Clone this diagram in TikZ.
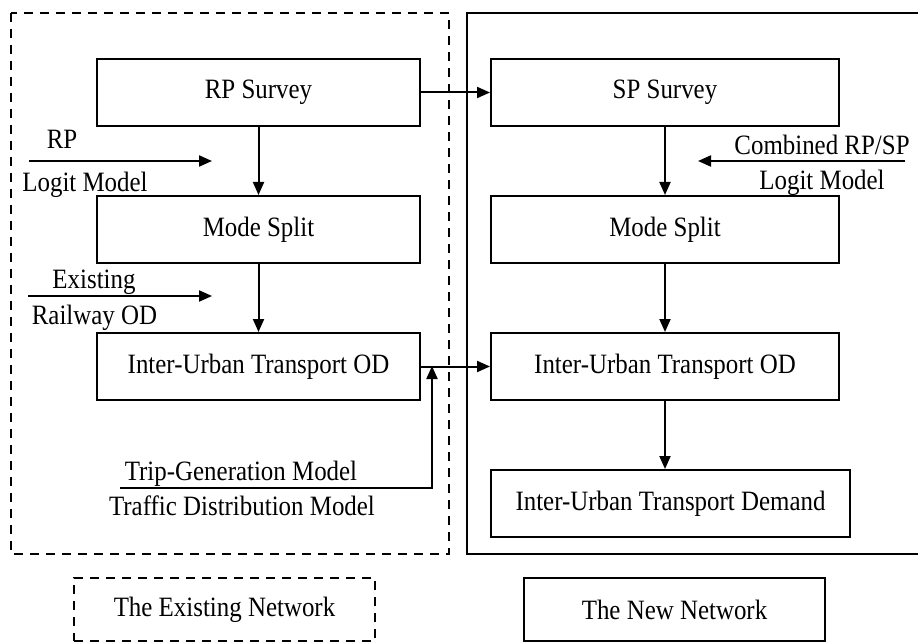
\documentclass[tikz,border=0pt]{standalone}
\usepackage{fontspec}
\setmainfont{Liberation Serif}[FakeStretch=0.89]
\usetikzlibrary{positioning,arrows.meta}

\begin{document}
\begin{tikzpicture}[x=1pt, y=-1pt,
    font=\fontsize{28pt}{32pt}\selectfont,
    node distance=68pt and 69pt,
    stage/.style={rectangle, draw=black, line width=2pt, minimum width=323pt, minimum height=67pt, inner sep=0pt, text centered},
    legend/.style={rectangle, draw=black, line width=2pt, minimum width=301pt, minimum height=63pt, inner sep=0pt, text centered},
    tag/.style={inner sep=0pt, anchor=base},
    arrow/.style={-{Triangle[length=13pt, width=11pt]}, line width=2pt},
    frame/.style={line width=2pt},
    dashframe/.style={line width=2pt, dash pattern=on 9pt off 7pt},
]
\useasboundingbox (0,0) rectangle (918,644);

% Network frames
\draw[dashframe] (11,13) rectangle (449,554);
\draw[frame] (467,13) rectangle (940,554);

% Existing network
\node (rps) [stage] at (258.5,92.5) {RP Survey};
\node (lms) [stage, below=of rps] {Mode Split};
\node (lod) [stage, below=of lms] {Inter-Urban Transport OD};

% New network
\node (sps) [stage, minimum width=348pt, right=of rps] {SP Survey};
\node (rms) [stage, minimum width=348pt, below=of sps] {Mode Split};
\node (rod) [stage, minimum width=348pt, below=of rms] {Inter-Urban Transport OD};
\node (dem) [stage, minimum width=359pt, below=68pt of rod.south west, anchor=north west] {Inter-Urban Transport Demand};

% Inputs
\coordinate (rpfrom) at (29,161);
\coordinate (rpto) at (212,161);
\node (rptop) [tag] at (62,149) {RP};
\node (rpbot) [tag] at (85,192) {Logit Model};

\coordinate (odfrom) at (28,296);
\coordinate (odto) at (212,296);
\node (odtop) [tag] at (94,288) {Existing};
\node (odbot) [tag] at (94.5,324) {Railway OD};

\coordinate (spfrom) at (905,161);
\coordinate (spto) at (698,161);
\node (sptop) [tag] at (822,155) {Combined RP/SP};
\node (spbot) [tag] at (822,190) {Logit Model};

\coordinate (tripfrom) at (120,488);
\coordinate (tripto) at (432,366);
\node (triptop) [tag] at (241,480) {Trip-Generation Model};
\node (tripbot) [tag] at (242,515) {Traffic Distribution Model};

% Arrows
\draw[arrow] (rps) -- (lms);
\draw[arrow] (lms) -- (lod);
\draw[arrow] (sps) -- (rms);
\draw[arrow] (rms) -- (rod);
\draw[arrow] (rod) -- (dem.north -| rod.south);
\draw[arrow] (rps) -- (sps);
\draw[arrow] (lod) -- (rod);
\draw[arrow] (rpfrom) -- (rpto);
\draw[arrow] (odfrom) -- (odto);
\draw[arrow] (spfrom) -- (spto);
\draw[arrow] (tripfrom) -| (tripto);

% Legend
\node (oldnet) [legend, dash pattern=on 9pt off 7pt] at (224.5,609.5) {The Existing Network};
\node (newnet) [legend] at (674.5,609.5) {The New Network};

\end{tikzpicture}
\end{document}
